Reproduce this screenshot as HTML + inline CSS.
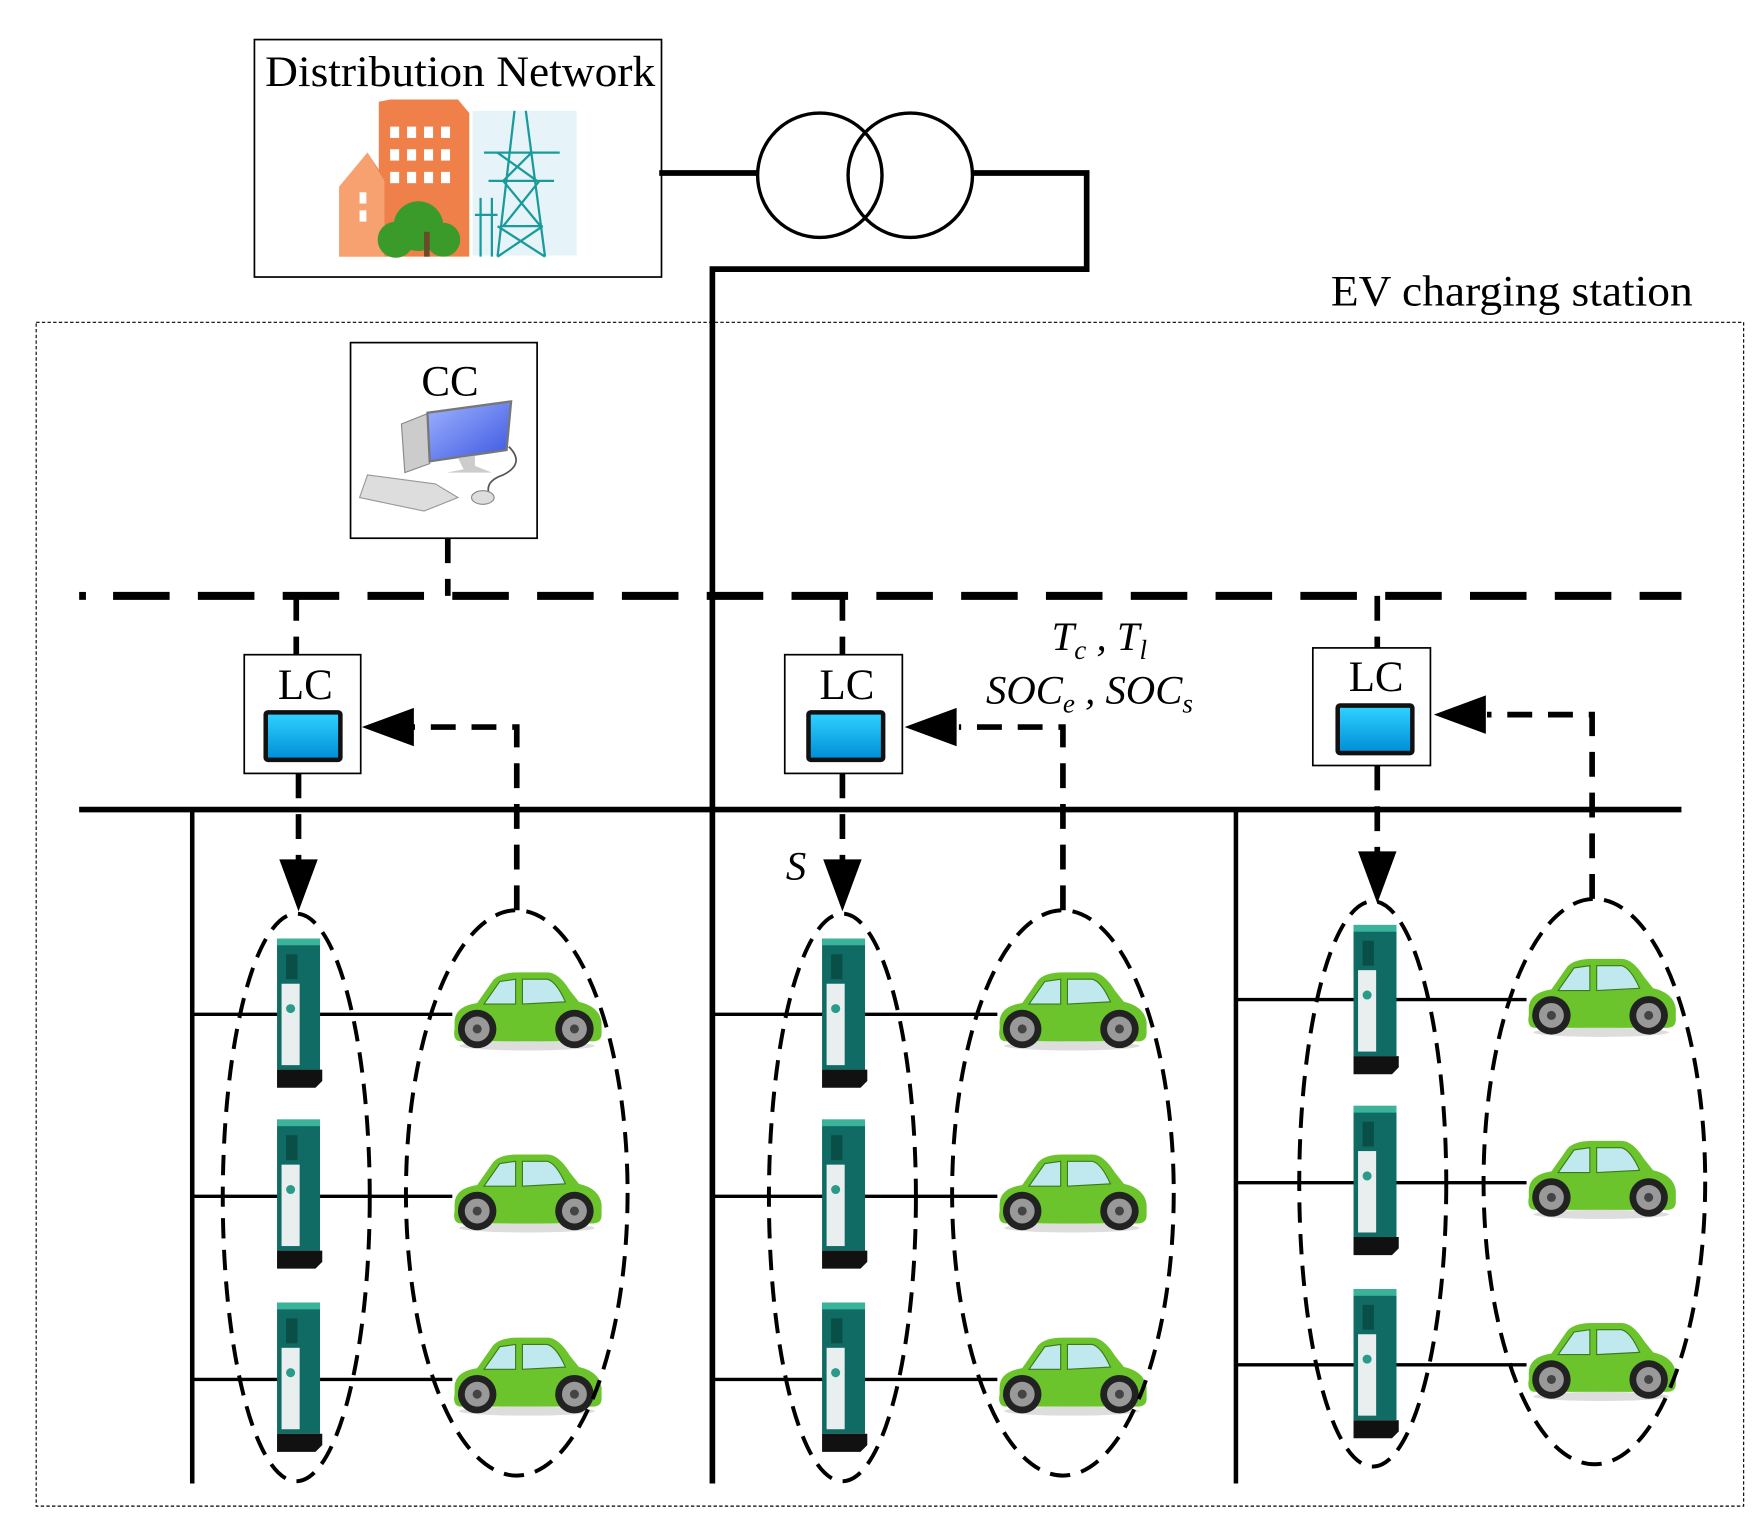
<!DOCTYPE html>
<html><head><meta charset="utf-8"><style>
html,body{margin:0;padding:0;background:#fff;}
svg{display:block;}
text{font-family:"Liberation Serif",serif;fill:#000;}
</style></head><body>
<svg width="1764" height="1531" viewBox="0 0 1560 1354" preserveAspectRatio="none" xmlns="http://www.w3.org/2000/svg">
<defs>
<linearGradient id="scr" x1="0" y1="0" x2="0" y2="1"><stop offset="0" stop-color="#2fd0ff"/><stop offset="1" stop-color="#0090d8"/></linearGradient>
<linearGradient id="mon" x1="0" y1="0" x2="1" y2="1"><stop offset="0" stop-color="#9fb4ff"/><stop offset="1" stop-color="#3b55e0"/></linearGradient>
<g id="car">
<path d="M4,46 Q4,32 24,29 L38,9 Q44,2 60,2 L86,2 Q96,2 106,18 L114,28 Q132,32 134,46 L134,56 Q134,63 126,63 L10,63 Q2,63 4,52 Z" fill="#6cc42c"/>
<path d="M30,30 L44,10 L58,8 L58,30 Z" fill="#bfe8ef" stroke="#3a7a1a" stroke-width="1"/>
<path d="M64,8 L86,8 Q94,10 102,28 L64,30 Z" fill="#bfe8ef" stroke="#3a7a1a" stroke-width="1"/>
<ellipse cx="68" cy="67" rx="60" ry="4" fill="#ddd"/>
<circle cx="24" cy="52" r="17" fill="#222"/><circle cx="24" cy="52" r="11" fill="#999"/><circle cx="24" cy="52" r="4" fill="#444"/>
<circle cx="110" cy="52" r="17" fill="#222"/><circle cx="110" cy="52" r="11" fill="#999"/><circle cx="110" cy="52" r="4" fill="#444"/>
</g>
<g id="chg">
<rect x="0" y="0" width="38" height="116" fill="#0f6b63"/>
<rect x="0" y="0" width="38" height="6" fill="#3bb39a"/>
<rect x="4" y="40" width="16" height="72" fill="#e8efee"/>
<rect x="8" y="14" width="10" height="22" fill="#0a4e48"/>
<circle cx="12" cy="62" r="4" fill="#2a9a8a"/>
<path d="M0,116 L40,116 L40,126 L34,132 L0,132 Z" fill="#111"/>
</g>
<g id="tab">
<rect x="0" y="0" width="70" height="46" rx="4" fill="#111"/>
<rect x="4" y="4" width="62" height="38" fill="url(#scr)"/>
</g>
</defs>

<rect x="225" y="35" width="360" height="210" fill="#fff" stroke="#000" stroke-width="1.5"/>
<text x="407" y="76" font-size="38" text-anchor="middle" textLength="345" lengthAdjust="spacingAndGlyphs">Distribution Network</text>
<path d="M300,165 L325,135 L335,150 L335,90 L345,88 L405,88 L415,100 L415,227 L300,227 Z" fill="#f0804a"/>
<path d="M300,165 L325,135 L340,160 L340,227 L300,227 Z" fill="#f7a070"/>
<g fill="#fff"><rect x="345" y="112" width="8" height="10"/><rect x="360" y="112" width="8" height="10"/><rect x="375" y="112" width="8" height="10"/><rect x="390" y="112" width="8" height="10"/>
<rect x="345" y="132" width="8" height="10"/><rect x="360" y="132" width="8" height="10"/><rect x="375" y="132" width="8" height="10"/><rect x="390" y="132" width="8" height="10"/>
<rect x="345" y="152" width="8" height="10"/><rect x="360" y="152" width="8" height="10"/><rect x="375" y="152" width="8" height="10"/><rect x="390" y="152" width="8" height="10"/>
<rect x="318" y="170" width="6" height="10"/><rect x="318" y="186" width="6" height="10"/></g>
<circle cx="370" cy="200" r="22" fill="#3a9a2a"/><circle cx="350" cy="212" r="16" fill="#3a9a2a"/><circle cx="392" cy="212" r="15" fill="#3a9a2a"/>
<rect x="375" y="205" width="5" height="22" fill="#6b4a2a"/>
<rect x="418" y="98" width="92" height="128" fill="#e6f4fa"/>
<g stroke="#1a9a9a" stroke-width="2" fill="none">
<path d="M455,98 L440,227 M465,98 L482,227 M428,135 L495,135 M432,160 L490,160 M440,135 L475,160 M470,135 L445,160 M445,160 L478,200 M477,160 L445,200 M442,200 L480,200 M440,200 L482,227 M480,200 L440,227"/>
<path d="M425,175 L425,227 M435,175 L435,227 M420,190 L440,190"/>
</g>

<g stroke="#000" fill="none">
<path d="M583,153 L670,153" stroke-width="5"/>
<circle cx="725" cy="155" r="55" stroke-width="3"/>
<circle cx="805" cy="155" r="55" stroke-width="3"/>
<path d="M860,153 L961,153 L961,238 L630,238 L630,1312" stroke-width="5"/>
</g>

<text x="1497" y="270" font-size="38" text-anchor="end" textLength="320" lengthAdjust="spacingAndGlyphs">EV charging station</text>
<rect x="32" y="285" width="1510" height="1047" fill="none" stroke="#000" stroke-width="1" stroke-dasharray="3 2"/>

<rect x="310" y="303" width="165" height="173" fill="#fff" stroke="#000" stroke-width="1.5"/>
<text x="398" y="350" font-size="38" text-anchor="middle">CC</text>
<path d="M355,375 L380,365 L380,410 L358,418 Z" fill="#ccc" stroke="#888"/>
<path d="M378,365 L452,355 L448,398 L380,408 Z" fill="url(#mon)" stroke="#777" stroke-width="2"/>
<path d="M405,405 L410,415 L395,418 L435,418 L420,412 L420,403 Z" fill="#ccc"/>
<path d="M325,420 L385,428 L405,440 L375,452 L318,440 Z" fill="#ddd" stroke="#999"/>
<path d="M450,395 Q465,410 445,420 Q430,425 432,435" stroke="#555" fill="none" stroke-width="1.5"/>
<ellipse cx="427" cy="440" rx="10" ry="6" fill="#ddd" stroke="#888"/>

<g stroke="#000" fill="none" stroke-width="7">
<path d="M70,527 L76,527" />
<path d="M100,527 L1487,527" stroke-dasharray="50 25"/>
</g>
<g stroke="#000" fill="none" stroke-width="5" stroke-dasharray="22 14">
<path d="M396,476 L396,527"/>
<path d="M262,527 L262,579"/>
<path d="M745,527 L745,579"/>
<path d="M1218,527 L1218,573"/>
</g>

<rect x="216" y="579" width="103" height="105" fill="#fff" stroke="#000" stroke-width="1.5"/>
<text x="270" y="618" font-size="38" text-anchor="middle">LC</text>
<use href="#tab" x="233" y="628"/>
<rect x="694" y="579" width="104" height="105" fill="#fff" stroke="#000" stroke-width="1.5"/>
<text x="749" y="618" font-size="38" text-anchor="middle">LC</text>
<use href="#tab" x="713" y="628"/>
<rect x="1161" y="573" width="104" height="104" fill="#fff" stroke="#000" stroke-width="1.5"/>
<text x="1217" y="611" font-size="38" text-anchor="middle">LC</text>
<use href="#tab" x="1181" y="622"/>

<text x="930" y="575" font-size="36" font-style="italic">T<tspan font-size="24" dy="8">c</tspan><tspan dy="-8"> , T</tspan><tspan font-size="24" dy="8">l</tspan></text>
<text x="872" y="622" font-size="36" font-style="italic">SOC<tspan font-size="24" dy="8">e</tspan><tspan dy="-8"> , SOC</tspan><tspan font-size="24" dy="8">s</tspan></text>
<text x="695" y="778" font-size="36" font-style="italic">S</text>

<g stroke="#000" fill="none">
<path d="M70,716 L1487,716" stroke-width="5"/>
<path d="M170,716 L170,1312 M1093,716 L1093,1312" stroke-width="4"/>
<g stroke-width="3">
<path d="M170,897 L400,897 M170,1058 L400,1058 M170,1220 L400,1220"/>
<path d="M630,897 L882,897 M630,1058 L882,1058 M630,1220 L882,1220"/>
<path d="M1093,884 L1350,884 M1093,1046 L1350,1046 M1093,1207 L1350,1207"/>
</g>
</g>

<g stroke="#000" fill="none" stroke-width="5" stroke-dasharray="22 14">
<path d="M264,684 L264,765"/>
<path d="M745,684 L745,765"/>
<path d="M1218,677 L1218,758"/>
<path d="M457,805 L457,643 L365,643"/>
<path d="M940,805 L940,643 L848,643"/>
<path d="M1408,795 L1408,632 L1315,632"/>
</g>
<g fill="#000">
<path d="M247,760 L281,760 L264,806 Z"/>
<path d="M728,760 L762,760 L745,806 Z"/>
<path d="M1201,753 L1235,753 L1218,799 Z"/>
<path d="M320,643 L366,626 L366,660 Z"/>
<path d="M800,643 L846,626 L846,660 Z"/>
<path d="M1268,632 L1314,615 L1314,649 Z"/>
</g>

<use href="#chg" x="245" y="830"/><use href="#chg" x="245" y="990"/><use href="#chg" x="245" y="1152"/>
<use href="#chg" x="727" y="830"/><use href="#chg" x="727" y="990"/><use href="#chg" x="727" y="1152"/>
<use href="#chg" x="1197" y="818"/><use href="#chg" x="1197" y="978"/><use href="#chg" x="1197" y="1140"/>
<use href="#car" x="398" y="858"/><use href="#car" x="398" y="1019"/><use href="#car" x="398" y="1181"/>
<use href="#car" x="880" y="858"/><use href="#car" x="880" y="1019"/><use href="#car" x="880" y="1181"/>
<use href="#car" x="1348" y="846"/><use href="#car" x="1348" y="1007"/><use href="#car" x="1348" y="1168"/>

<g stroke="#000" fill="none" stroke-width="3.5" stroke-dasharray="18 10">
<ellipse cx="262" cy="1059" rx="65" ry="251"/>
<ellipse cx="457" cy="1055" rx="98" ry="250"/>
<ellipse cx="745" cy="1059" rx="65" ry="251"/>
<ellipse cx="940" cy="1055" rx="98" ry="250"/>
<ellipse cx="1214" cy="1047" rx="65" ry="250"/>
<ellipse cx="1410" cy="1045" rx="98" ry="250"/>
</g>
</svg>
</body></html>
